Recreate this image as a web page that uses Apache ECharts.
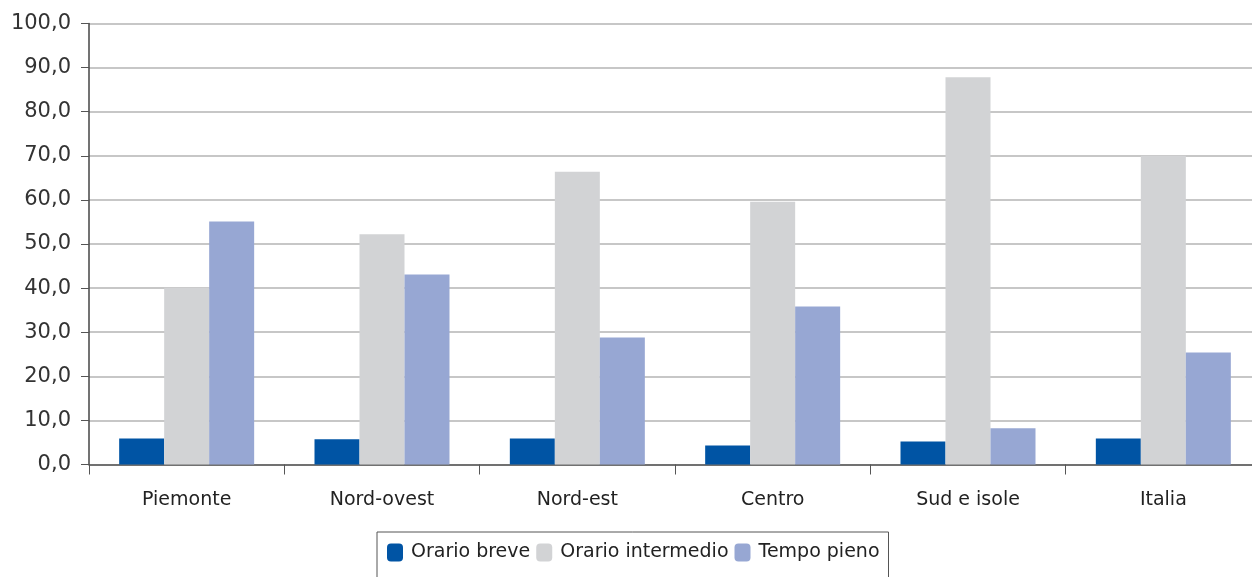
<!DOCTYPE html>
<html><head><meta charset="utf-8">
<script src="https://cdn.jsdelivr.net/npm/echarts@6/dist/echarts.min.js"></script>
<style>html,body{margin:0;padding:0;background:#fff}#c{width:1252px;height:577px}</style>
</head><body><div id="c"></div>
<script>
const categories = ['Piemonte','Nord-ovest','Nord-est','Centro','Sud e isole','Italia'];
const orarioBreve = [5.9, 5.7, 5.9, 4.3, 5.2, 5.9];
const orarioIntermedio = [40.1, 52.2, 66.4, 59.6, 87.8, 70.0];
const tempoPieno = [55.1, 43.1, 28.8, 35.8, 8.2, 25.4];
const seriesNames = ['Orario breve','Orario intermedio','Tempo pieno'];
const colors = ['#0054a4','#d2d3d5','#97a7d3'];
const font = 'DejaVu Sans, Verdana, sans-serif';
const chart = echarts.init(document.getElementById('c'));
chart.setOption({
  animation:false,
  color: colors,
  grid:{left:89, top:23.5, width:1172, bottom:112.5, containLabel:false, outerBoundsMode:'none'},
  legend:{
    left:377, top:532, itemWidth:16, itemHeight:18, itemGap:6,
    padding:[11,9,30,10],
    borderColor:'#555', borderWidth:1,
    textStyle:{fontFamily:font, fontSize:19, color:'#222', padding:[0,0,0,3]},
    data:seriesNames
  },
  xAxis:{
    type:'category', data:categories,
    axisLine:{lineStyle:{color:'#555', width:1.5}},
    axisTick:{show:true, length:10, lineStyle:{color:'#555'}},
    axisLabel:{fontFamily:font, fontSize:19, color:'#222', margin:26}
  },
  yAxis:{
    type:'value', min:0, max:100, interval:10,
    axisLine:{show:true, lineStyle:{color:'#444', width:1.5}},
    axisTick:{show:true, length:8, lineStyle:{color:'#555'}},
    splitLine:{lineStyle:{color:'#b5b5b5', width:1.5}},
    axisLabel:{fontFamily:font, fontSize:21, color:'#333', margin:18,
      formatter: v => v.toFixed(1).replace('.', ',')}
  },
  series:[
    {name:seriesNames[0], type:'bar', data:orarioBreve, barWidth:45, barGap:'0%'},
    {name:seriesNames[1], type:'bar', data:orarioIntermedio, barWidth:45, barGap:'0%'},
    {name:seriesNames[2], type:'bar', data:tempoPieno, barWidth:45, barGap:'0%'}
  ]
});
</script></body></html>
